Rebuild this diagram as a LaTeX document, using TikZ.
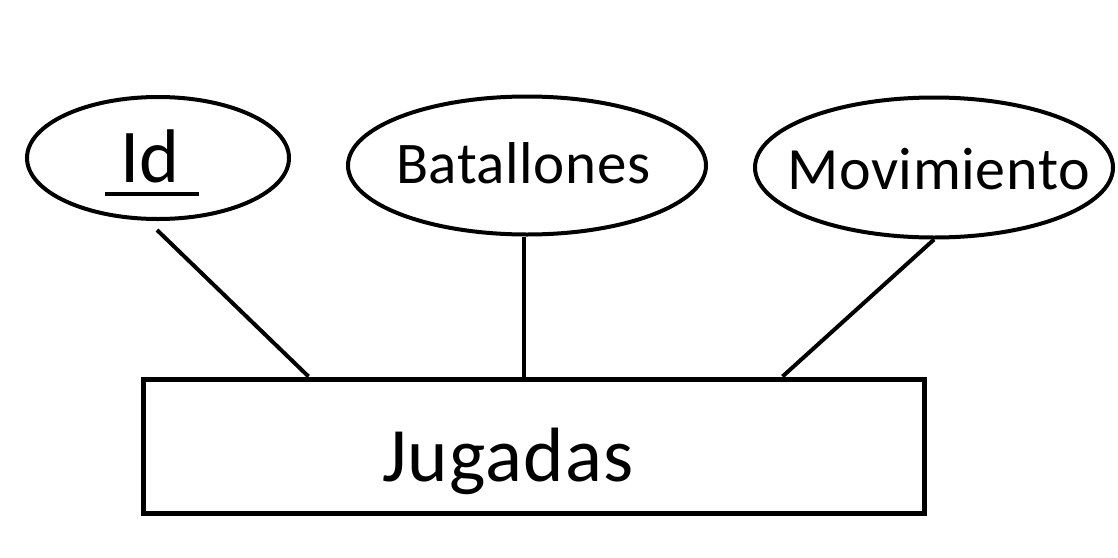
\documentclass[tikz,border=0pt]{standalone}
\usepackage{fontspec}
\setmainfont{Carlito}
\usetikzlibrary{shapes.geometric,calc}
\tikzset{
  attr/.style={draw,ellipse,line width=4pt,inner sep=0pt},
  ent/.style={draw,rectangle,line width=5pt,inner sep=0pt},
  conn/.style={line width=4pt},
  lbl/.style={inner sep=0pt,anchor=base west}
}
\begin{document}
\begin{tikzpicture}[x=1pt,y=-1pt]
\useasboundingbox (0,0) rectangle (1118,557);
\node[attr,minimum width=262pt,minimum height=122pt] (id) at (158,158) {};
\node[attr,minimum width=358pt,minimum height=138pt] (bat) at (527,165.5) {};
\node[attr,minimum width=358pt,minimum height=140pt] (mov) at (934,167.5) {};
\node[ent,minimum width=781pt,minimum height=134pt] (jug) at (533.5,446) {};
\node[lbl,font=\fontsize{76}{80}\selectfont] (idt) at (120,182) {Id};
\draw[line width=4pt] ($(id.center)+(-53,36)$) coordinate (u1) -- ($(id.center)+(41,36)$) coordinate (u2);
\node[lbl,font=\fontsize{59}{62}\selectfont\addfontfeature{LetterSpace=1}] (batt) at (396,183) {Batallones};
\node[lbl,font=\fontsize{60}{64}\selectfont\addfontfeature{LetterSpace=1}] (movt) at (787,189) {Movimiento};
\node[lbl,font=\fontsize{77}{82}\selectfont\addfontfeature{LetterSpace=1.5}] (jugt) at (382,481) {Jugadas};
\draw[conn] ($(id.south)+(-1,9)$) -- ($(jug.north west)+(168,0)$);
\draw[conn] (bat.south -| 524,0) -- (jug.north -| 524,0);
\draw[conn] (mov.south) -- ($(jug.north west)+(642,0)$);
\end{tikzpicture}
\end{document}
